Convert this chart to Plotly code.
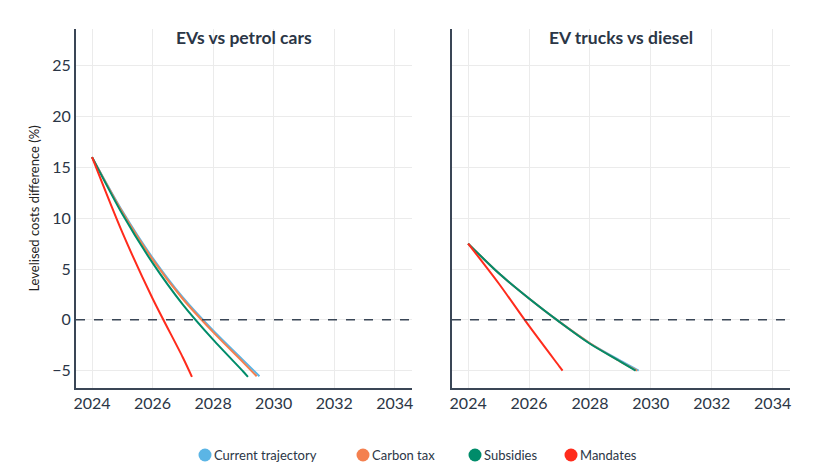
import plotly.graph_objects as go
from plotly.subplots import make_subplots

series_names = ["Current trajectory", "Carbon tax", "Subsidies", "Mandates"]
series_colors = ["#5BB5E5", "#F4804F", "#008C6A", "#FF2B1C"]

# Left panel: EVs vs petrol cars
cars_current_x = [2024, 2025, 2026, 2027, 2028, 2029, 2029.53]
cars_current_y = [16.0, 10.7, 6.1, 2.2, -1.05, -4.0, -5.55]
cars_carbon_x = [2024, 2025, 2026, 2027, 2028, 2029, 2029.44]
cars_carbon_y = [16.0, 10.6, 5.95, 2.05, -1.2, -4.2, -5.55]
cars_subs_x = [2024, 2025, 2026, 2027, 2028, 2029, 2029.15]
cars_subs_y = [16.0, 10.4, 5.6, 1.5, -1.95, -5.1, -5.6]
cars_mand_x = [2024, 2025, 2026, 2027, 2027.3]
cars_mand_y = [16.0, 8.6, 2.1, -3.7, -5.6]

# Right panel: EV trucks vs diesel
trucks_current_x = [2024, 2025, 2026, 2027, 2028, 2029, 2029.6]
trucks_current_y = [7.5, 4.6, 2.1, -0.2, -2.3, -4.0, -5.0]
trucks_carbon_x = [2024, 2025, 2026, 2027, 2028, 2029, 2029.55]
trucks_carbon_y = [7.5, 4.6, 2.1, -0.2, -2.3, -4.1, -5.0]
trucks_subs_x = [2024, 2025, 2026, 2027, 2028, 2029, 2029.5]
trucks_subs_y = [7.5, 4.6, 2.1, -0.2, -2.35, -4.1, -5.0]
trucks_mand_x = [2024, 2025, 2026, 2027, 2027.1]
trucks_mand_y = [7.5, 3.6, -0.6, -4.6, -5.0]

panel_titles = ["EVs vs petrol cars", "EV trucks vs diesel"]
y_title = "Levelised costs difference (%)"
x_ticks = [2024, 2026, 2028, 2030, 2032, 2034]
y_ticks = [-5, 0, 5, 10, 15, 20, 25]

left = [(cars_current_x, cars_current_y), (cars_carbon_x, cars_carbon_y),
        (cars_subs_x, cars_subs_y), (cars_mand_x, cars_mand_y)]
right = [(trucks_current_x, trucks_current_y), (trucks_carbon_x, trucks_carbon_y),
         (trucks_subs_x, trucks_subs_y), (trucks_mand_x, trucks_mand_y)]

OFF = 8  # browser body margin
W, H = 827 - OFF, 473 - OFF
ML, MR, MT, MB = 76 - OFF, 37, 29 - OFF, 85
PW, PH = W - ML - MR, H - MT - MB

fig = make_subplots(rows=1, cols=2, shared_yaxes=True)

FONT = "Lato"
DARK = "#2B3646"

for col, data in ((1, left), (2, right)):
    for name, color, (xs, ys) in zip(series_names, series_colors, data):
        fig.add_trace(go.Scatter(x=xs, y=ys, mode="lines", name=name,
                                 line=dict(color=color, width=2, shape="spline", smoothing=0.8),
                                 showlegend=False, hoverinfo="skip"), row=1, col=col)

for col in (1, 2):
    fig.add_hline(y=0, line=dict(color="#3A4656", width=1.5, dash="dash"), row=1, col=col)

fig.update_xaxes(range=[2023.47, 2034.57], tickvals=x_ticks, showgrid=True, gridcolor="#EBEBEB",
                 showline=True, linecolor="#3A4656", linewidth=2, zeroline=False, ticks="",
                 automargin=False, tickfont=dict(family=FONT, size=16, color=DARK))
fig.update_yaxes(range=[-6.7, 28.6], tickvals=y_ticks, showgrid=True, gridcolor="#EBEBEB",
                 showline=True, linecolor="#3A4656", linewidth=2, zeroline=False, ticks="",
                 automargin=False, tickfont=dict(family=FONT, size=16, color=DARK))
fig.update_layout(
    xaxis=dict(domain=[0, 336 / PW]),
    xaxis2=dict(domain=[376 / PW, 1]),
)
fig.update_yaxes(title=dict(text=y_title, font=dict(family=FONT, size=13, color="#222"), standoff=10),
                 row=1, col=1)

def py_to_paper(page_y):
    return (MT + PH - (page_y - OFF)) / PH

def px_to_paper(page_x):
    return (page_x - OFF - ML) / PW

for i, t in enumerate(panel_titles):
    xref = "x domain" if i == 0 else "x2 domain"
    fig.add_annotation(text="<b>%s</b>" % t, xref=xref, yref="paper", x=0.5,
                       y=py_to_paper(38), yanchor="middle", showarrow=False,
                       font=dict(family=FONT, size=17.5, color=DARK))

# manual legend (circle markers + labels)
legend_marker_px = [205, 363, 475, 571]
legend_y_px = 455
r = 6.5
for name, color, mx in zip(series_names, series_colors, legend_marker_px):
    cx = px_to_paper(mx)
    cy = py_to_paper(legend_y_px)
    fig.add_shape(type="circle", xref="paper", yref="paper",
                  x0=cx - r / PW, x1=cx + r / PW, y0=cy - r / PH, y1=cy + r / PH,
                  fillcolor=color, line=dict(width=0))
    fig.add_annotation(text=name, xref="paper", yref="paper", x=px_to_paper(mx + 7), y=cy,
                       xanchor="left", yanchor="middle", showarrow=False,
                       font=dict(family=FONT, size=13, color=DARK))

fig.update_layout(
    width=W, height=H,
    margin=dict(l=ML, r=MR, t=MT, b=MB),
    plot_bgcolor="white", paper_bgcolor="white",
    font=dict(family=FONT, color=DARK),
    showlegend=False,
)

fig.write_html("out.html")
